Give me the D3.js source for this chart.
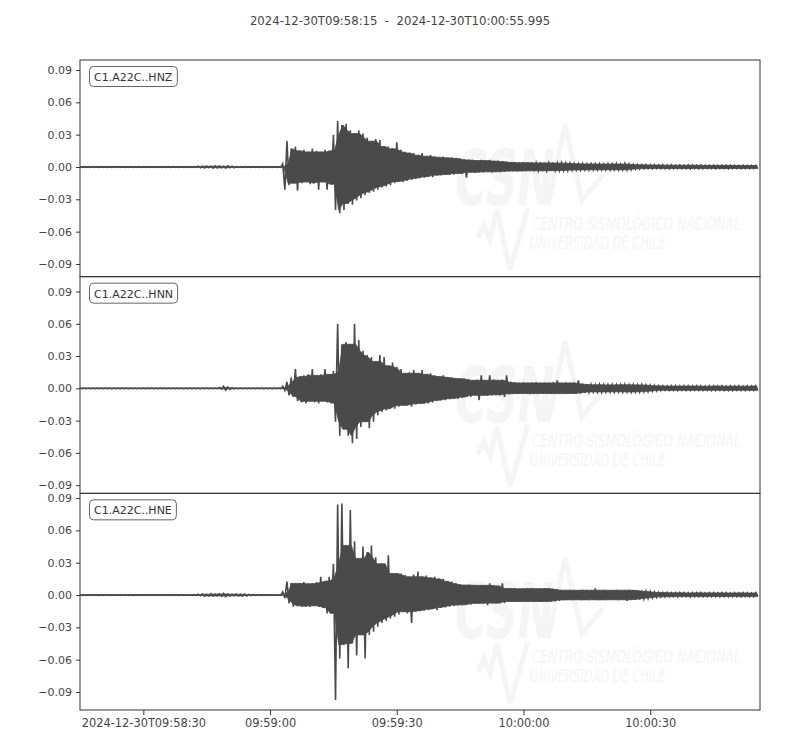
<!DOCTYPE html>
<html>
<head>
<meta charset="utf-8">
<script src="https://cdn.jsdelivr.net/npm/d3@7"></script>
<style>
  body { margin: 0; background: #fff; }
  svg { font-family: "DejaVu Sans", sans-serif; }
</style>
</head>
<body>
<div id="chart"></div>
<script>
// channel names (one panel each)
const channels = ['C1.A22C..HNZ', 'C1.A22C..HNN', 'C1.A22C..HNE']
const startTime = '2024-12-30T09:58:15Z'
const endTime = '2024-12-30T10:00:55.995Z'
const xTickTimes = ['2024-12-30T09:58:30Z', '2024-12-30T09:59:00Z', '2024-12-30T09:59:30Z', '2024-12-30T10:00:00Z', '2024-12-30T10:00:30Z']
const yTicks = [-0.09, -0.06, -0.03, 0, 0.03, 0.06, 0.09]
// y limits of every panel [min, max]
const yLimits = [[-0.1018, 0.0993], [-0.0976, 0.1038], [-0.1067, 0.0944]]

// peak amplitudes per 1 s window, in units of 0.001 (up = positive peak, lo = negative peak)
const hnzUp = [
  .3,.3,.3,.3,.3,.3,.3,.3,.3,.3, .3,.3,.3,.3,.3,.3,.3,.3,.3,.3,
  .3,.3,.3,.3,.3,.3,.3,.3,.8,.6, .9,.7,1,.8,.6,1.1,.7,.3,.3,.3,
  .3,.3,.3,.3,.3,.3,.3,.3,3,24, 17,19,15,16,14,17,15,14,16,15,
  30,43,39,40,34,31,34,31,27,24, 26,25,19,19,17,23,16,14,13,13,
  11,13,10,11,9.6,9,9.6,8.5,9,8, 8,7,6.5,6.5,6,6.5,6,6.5,5.5,6,
  5,5,4.3,4.5,4,4.5,4,4.3,3.8,4.3, 4,3.8,4.2,3.6,4,3.5,3.6,3.2,3,3.2,
  2.8,3,2.8,3,2.7,3,2.8,3.2,2.7,3.3, 2.8,2.4,2.2,2,2.1,1.9,2,1.8,2,1.7,
  1.9,1.7,1.8,1.6,1.8,1.7,1.6,1.8,1.5,1.7, 1.6,1.5,1.7,1.5,1.6,1.5,1.4,1.6,1.5,1.4,1.5
]
const hnzLo = [
  .3,.3,.3,.3,.3,.3,.3,.3,.3,.3, .3,.3,.3,.3,.3,.3,.3,.3,.3,.3,
  .3,.3,.3,.3,.3,.3,.3,.3,.7,.9, .6,1,.8,.7,1,.6,.8,.3,.3,.3,
  .3,.3,.3,.3,.3,.3,.3,.3,21,17, 15,22,15,14,16,15,21,14,21,16,
  40,43,40,34,35,31,29,26,24,23, 21,19,18,17,15,13.6,14,13,12,11,
  10.5,10,9,9.5,8,7.5,7.4,7,7,6, 6.5,10,5,5.5,4.8,5,4.5,5,4.5,4.8,
  4.3,4,3.8,4,3.7,3.8,3.6,3.9,3.5,3.7, 3.5,3.6,3.4,3.5,3.3,3.4,3,2.8,3,2.7,
  2.9,2.6,2.8,2.7,2.6,2.9,2.6,2.8,2.6,3, 2.6,2.2,1.8,1.6,1.5,1.7,1.4,1.6,1.5,1.7,
  1.5,1.4,1.6,1.5,1.7,1.4,1.5,1.6,1.4,1.5, 1.6,1.4,1.5,1.7,1.4,1.5,1.6,1.4,1.5,1.4,1.5
]
const hnnUp = [
  .3,.3,.3,.3,.3,.3,.3,.3,.3,.3, .3,.3,.3,.3,.3,.3,.3,.3,.3,.3,
  .3,.3,.3,.3,.3,.3,.3,.3,.3,.3, .3,.3,.3,.8,2,1.2,.5,.3,.3,.3,
  .3,.3,.3,.3,.3,.3,.3,.3,2,6, 10,18,11,12,13,18,12,13,18,13,
  16,60,41,43,41,60,45,35,31,29, 25,31,29,21,24,20,18,14,15,17,
  14,17,13,14,12,11,12,10.5,10,9.5, 9,9,8.5,7.5,8,12,7.5,12,8,7.5,
  8,12,6,5.5,5,5.5,5,5.3,5.5,5, 5.3,5,5.5,7.5,5,5.3,5,5.2,7.5,4.3,
  3.8,3.5,3.3,3.6,3.4,3.2,3.5,3.3,3.4,3.6, 3.3,3.4,3.2,3.5,3.1,2.9,2.6,2.3,2.3,2.1,
  2.2,2.4,2.1,2.3,2.2,2.1,2.3,2.2,2,2.3, 2.2,2.1,2.3,2,2.2,2.1,2.3,2,2.2,2.1,2.2
]
const hnnLo = [
  .3,.3,.3,.3,.3,.3,.3,.3,.3,.3, .3,.3,.3,.3,.3,.3,.3,.3,.3,.3,
  .3,.3,.3,.3,.3,.3,.3,.3,.3,.3, .3,.3,.3,.7,1.8,1,.4,.3,.3,.3,
  .3,.3,.3,.3,.3,.3,.3,.3,2,6.5, 8,12,13,14,12,13,14,12,13,14,
  31,44,38,44,51,47,36,31,37,31, 25,22,20.5,19,19,17,15.8,16,17,15,
  14.3,14,14,13,12,11,11,10,9.6,9.5, 9,8,8,6.5,11,6.5,7,6.5,6,6.5,
  8,5.5,5,5.2,4.8,5,5.3,4.9,5,5.2, 4.8,5,5.1,4.9,5,5.2,4.8,5,4.9,4.2,
  3.8,3.3,3.4,3.6,3.3,3.4,3.5,3.2,3.4,3.3, 3.5,3.3,3.4,3.2,3,2.7,2.4,2.1,1.8,2,
  1.9,2,1.8,1.9,2,1.8,1.9,2,1.8,1.9, 2,1.8,1.9,2,1.9,1.8,2,1.9,1.8,1.9,2
]
const hneUp = [
  .3,.3,.3,.3,.3,.3,.3,.3,.3,.3, .3,.3,.3,.3,.3,.3,.3,.3,.3,.3,
  .3,.3,.3,.3,.3,.3,.3,.3,.8,1, .7,1.2,.9,1,1.5,1.1,.8,1,.7,.9,
  .6,.3,.3,.3,.3,.3,.3,.3,3,12.4, 11,10.8,11,12,10.5,11,12,17,13,17,
  29,84,85,46,79,50,34,45,40,46, 35,29,29,37,20,20,20,18.6,17,19,
  21.7,17,18,16,17,15,15,13,12.4,11, 10,9.3,9.5,9.3,9,9,9.3,10.8,9,8.5,
  10.8,6.2,6,6.5,5.8,6.2,6,6.4,5.9,6.2, 6,6.3,5.8,5.4,4.6,4.5,4.8,4.4,4.6,4.7,
  4.5,4.6,6.2,4.5,4.7,4.4,4.6,4.8,4.5,4.6, 4.7,4.5,4.4,4,3.6,3.2,2.8,2.5,2.3,2.4,
  2.2,2.1,2.3,2.2,2,2.2,2.1,2.3,2,2.2, 2.1,2,2.2,2.1,1.9,2.1,2,2.2,2,1.9,2.1
]
const hneLo = [
  .3,.3,.3,.3,.3,.3,.3,.3,.3,.3, .3,.3,.3,.3,.3,.3,.3,.3,.3,.3,
  .3,.3,.3,.3,.3,.3,.3,.3,.7,1, .9,1,.8,1.2,1.4,1,.7,.9,1,.8,
  .5,.3,.3,.3,.3,.3,.3,.3,3,7.7, 10.8,10,11,10.5,11,10,11,12,17,17,
  97.5,59,46,68,45,56,37,59,37,34, 29.4,26,24,21.7,20,18,15.5,17,26,15.5,
  15,14.5,14,13,14,12,11.5,10.8,10,9.3, 9.3,9,9,8,7.7,7.7,9.3,7.5,7.7,7.6,
  7.5,6.2,6,6.3,6.1,6.2,5.9,6.3,6,6.2, 6,6.1,5.8,5.3,4.6,4.5,4.7,4.4,4.6,4.5,
  4.6,4.4,4.7,4.5,4.6,4.4,4.5,4.6,4.4,5.3, 4.5,4.4,4.1,3.7,3.2,2.7,2.2,1.9,1.7,1.6,
  1.5,1.6,1.4,1.5,1.7,1.5,1.4,1.6,1.5,1.4, 1.5,1.6,1.4,1.5,1.5,1.4,1.6,1.5,1.4,1.5,1.4
]
const traces = [[hnzUp, hnzLo], [hnnUp, hnnLo], [hneUp, hneLo]]

const width = 800
const height = 750
const margin = { top: 60, right: 40, bottom: 40, left: 80 }
const plotH = (height - margin.top - margin.bottom) / channels.length
const ink = '#4a4a4a'
const textColor = '#444'
const faint = '#f5f5f5'

const svg = d3.select('#chart').append('svg')
  .attr('width', width)
  .attr('height', height)

const t0 = new Date(startTime)
const x = d3.scaleUtc()
  .domain([t0, new Date(endTime)])
  .range([margin.left, width - margin.right])

// title
svg.append('text')
  .attr('x', width / 2)
  .attr('y', 25)
  .attr('text-anchor', 'middle')
  .attr('font-size', 11.7)
  .attr('fill', textColor)
  .style('white-space', 'pre')
  .text(`${startTime.slice(0, 19)}  -  ${endTime.slice(0, 23)}`)

const hms = d3.utcFormat('%H:%M:%S')
const full = d3.utcFormat('%Y-%m-%dT%H:%M:%S')
const sec = i => new Date(+t0 + i * 1000)
// smallest of a peak and its two neighbours: the solid body of the trace
const core = (arr, i) => Math.min(arr[Math.max(i - 1, 0)], arr[i], arr[Math.min(i + 1, arr.length - 1)])

channels.forEach((name, k) => {
  const top = margin.top + k * plotH
  const y = d3.scaleLinear().domain(yLimits[k]).range([top + plotH, top])
  const g = svg.append('g')

  // faint CSN watermark
  const wm = g.append('g').attr('fill', faint).attr('stroke', faint)
  const pl = pts => pts.map(p => [p[0], top + p[1]].join(',')).join(' ')
  wm.append('text')
    .attr('transform', `translate(455,${top + 145}) scale(1,1.75)`)
    .attr('font-size', 44).attr('font-weight', 'bold').attr('font-style', 'italic')
    .attr('stroke', 'none')
    .text('CSN')
  wm.append('polyline')
    .attr('points', pl([[548, 145], [565, 65], [582, 140], [603, 115]]))
    .attr('fill', 'none').attr('stroke-width', 5)
  wm.append('polyline')
    .attr('points', pl([[478, 178], [484, 165], [490, 180], [497, 150], [510, 210], [528, 148]]))
    .attr('fill', 'none').attr('stroke-width', 5)
  wm.append('text')
    .attr('transform', `translate(532,${top + 170}) scale(1,1.5)`)
    .attr('font-size', 12.2).attr('font-style', 'italic').attr('stroke', 'none')
    .text('CENTRO SISMOLÓGICO NACIONAL')
  wm.append('text')
    .attr('transform', `translate(530,${top + 189}) scale(1,1.5)`)
    .attr('font-size', 11.4).attr('font-style', 'italic').attr('stroke', 'none')
    .text('UNIVERSIDAD DE CHILE')

  const [up, lo] = traces[k]
  // solid body
  g.append('path')
    .datum(up.map((v, i) => i))
    .attr('fill', ink)
    .attr('stroke', ink)
    .attr('stroke-width', 0.8)
    .attr('d', d3.area()
      .x(i => x(sec(i + 0.25)))
      .y1(i => y(core(up, i) / 1000))
      .y0(i => y(-core(lo, i) / 1000)))
  // zigzag through the positive and negative peak of each window
  const pts = []
  up.forEach((v, i) => {
    pts.push([i, v / 1000])
    pts.push([i + 0.5, -lo[i] / 1000])
  })
  g.append('path')
    .datum(pts)
    .attr('fill', 'none')
    .attr('stroke', ink)
    .attr('stroke-width', 1.6)
    .attr('d', d3.line().x(d => x(sec(d[0]))).y(d => y(d[1])))

  // y axis
  const ya = g.append('g')
    .attr('transform', `translate(${margin.left},0)`)
    .call(d3.axisLeft(y).tickValues(yTicks).tickFormat(d3.format('.2f')).tickSize(4).tickPadding(4))
  ya.select('.domain').remove()
  ya.selectAll('line').attr('stroke', '#333')
  ya.selectAll('text').attr('fill', textColor).attr('font-size', 11).attr('font-family', 'DejaVu Sans')

  // frame
  g.append('rect')
    .attr('x', margin.left).attr('y', top)
    .attr('width', width - margin.left - margin.right).attr('height', plotH)
    .attr('fill', 'none').attr('stroke', '#333').attr('stroke-width', 1)

  // channel label in rounded box
  const box = g.append('rect')
  const lab = g.append('text')
    .attr('x', margin.left + 14).attr('y', top + 21)
    .attr('font-size', 11).attr('fill', '#333')
    .text(name)
  const bb = lab.node().getBBox()
  box.attr('x', bb.x - 4.5).attr('y', top + 6.5)
    .attr('width', bb.width + 9).attr('height', 20)
    .attr('rx', 4)
    .attr('fill', '#fff').attr('stroke', '#666').attr('stroke-width', 1)
})

// x axis under the last panel
const xa = svg.append('g')
  .attr('transform', `translate(0,${height - margin.bottom})`)
  .call(d3.axisBottom(x)
    .tickValues(xTickTimes.map(s => new Date(s)))
    .tickFormat((d, i) => i === 0 ? full(d) : hms(d))
    .tickSize(5).tickPadding(4))
xa.select('.domain').remove()
xa.selectAll('line').attr('stroke', '#333')
xa.selectAll('text').attr('fill', textColor).attr('font-size', 11.4).attr('font-family', 'DejaVu Sans')
</script>
</body>
</html>
